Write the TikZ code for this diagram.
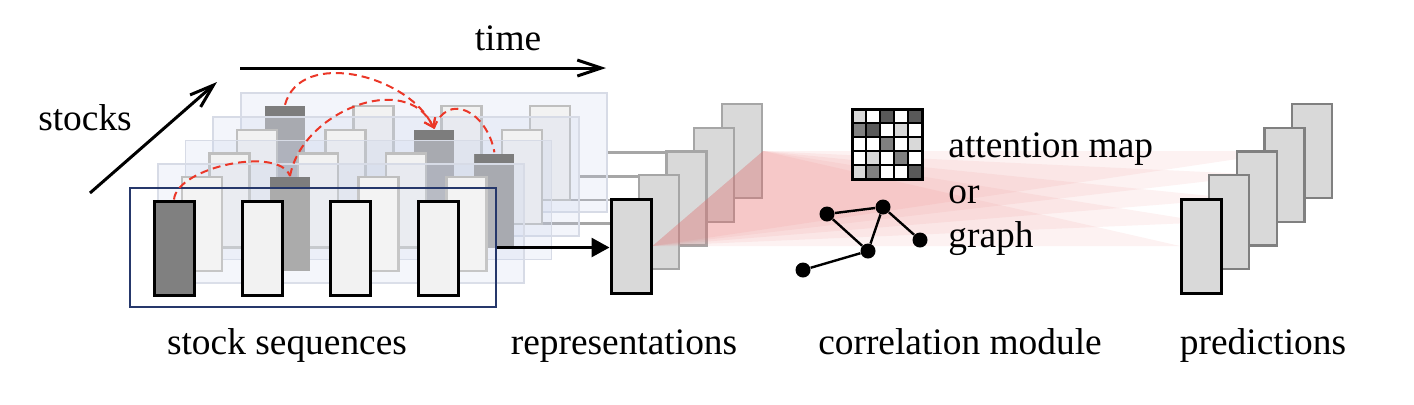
\documentclass[tikz,border=0pt]{standalone}
\usepackage{fontspec}
\setmainfont{Liberation Serif}
\usetikzlibrary{arrows.meta,backgrounds}

\definecolor{cellW}{gray}{1}
\definecolor{cellL}{RGB}{217,217,217}
\definecolor{cellM}{RGB}{128,128,128}
\definecolor{cellD}{RGB}{89,89,89}

\begin{document}
\begin{tikzpicture}[x=0.5pt, y=-0.5pt, >=Stealth, font=\fontsize{18.7}{22}\selectfont]
  \tikzset{
    layer/.style={rectangle, draw={rgb,255:red,215;green,219;blue,230},
      fill={rgb,255:red,200;green,210;blue,235}, fill opacity=0.22,
      minimum width=183pt, minimum height=59.5pt, inner sep=0pt, line width=0.8pt},
    front layer/.style={layer, draw={rgb,255:red,38;green,56;blue,107}, fill=white,
      fill opacity=0.12, line width=1.1pt},
    bar/.style={rectangle, minimum width=20pt, minimum height=47pt, inner sep=0pt, line width=1.2pt},
    light bar/.style={bar, draw={rgb,255:red,191;green,191;blue,191},
      fill={rgb,255:red,242;green,242;blue,242}},
    key bar/.style={bar, fill={rgb,255:red,160;green,160;blue,160},
      path picture={
        \fill[fill={rgb,255:red,125;green,125;blue,125}] (path picture bounding box.north west)
          rectangle ([yshift=-5pt]path picture bounding box.north east);
      }},
    front bar/.style={bar, draw=black, line width=1.5pt, fill={rgb,255:red,242;green,242;blue,242}},
    dark bar/.style={front bar, fill={rgb,255:red,128;green,128;blue,128}},
    rep/.style={bar, draw={rgb,255:red,166;green,166;blue,166}, fill={rgb,255:red,217;green,217;blue,217}},
    pred/.style={rep, draw={rgb,255:red,128;green,128;blue,128}},
    first/.style={draw=black, line width=1.5pt},
    link/.style={draw={rgb,255:red,166;green,166;blue,166}, line width=1.3pt},
    feed/.style={-{Triangle[length=9pt,width=9.5pt]}, line width=1.4pt},
    long arrow/.style={-{Straight Barb[length=12pt,width=8pt]}, line width=1.5pt},
    hop/.style={draw={rgb,255:red,235;green,55;blue,40}, line width=1pt, dash pattern=on 4pt off 2.5pt},
    hop arrow/.style={hop, -{Straight Barb[length=4pt,width=6pt]}},
    fan/.style={fill={rgb,255:red,230;green,110;blue,110}, fill opacity=0.09},
    vertex/.style={circle, fill=black, minimum size=7.5pt, inner sep=0pt},
    tie/.style={line width=1.2pt},
    cell/.style={draw=black, line width=1pt},
    txt/.style={inner sep=0pt}
  }

  \useasboundingbox (0,0) rectangle (1414,404);

  \foreach \k/\key in {4/0,3/2,2/3,1/1} {
    \node[layer] (L\k) at ({313+27.75*\k},{247.5-23.75*\k}) {};
    \foreach \j in {0,...,3} {
      \ifnum\j=\key
        \node[key bar] (s\k\j) at ({174+27.75*\k+88.3*\j},{248-23.75*\k}) {};
      \else
        \node[light bar] (s\k\j) at ({174+27.75*\k+88.3*\j},{248-23.75*\k}) {};
      \fi
    }
  }
  \node[front layer] (L0) at (313,247.5) {};
  \node[dark bar] (s00) at (174,248) {};
  \foreach \j in {1,2,3}
    \node[front bar] (s0\j) at ({174+88.3*\j},248) {};

  \foreach \k in {4,...,1}
    \node[rep] (r\k) at ({631+27.75*\k},{246-23.75*\k}) {};
  \node[rep, first] (r0) at (631,246) {};

  \begin{scope}[on background layer]
    \foreach \k in {1,...,4}
      \draw[link] (L\k.east) -- (L\k.east -| r\k.west);
  \end{scope}
  \draw[feed] (L0.east) -- (L0.east -| r0.west);

  \draw[hop] (s00.north) to[out=85, in=110, looseness=0.7] (s11.north);
  \draw[hop arrow] (s11.north) to[out=80, in=115, looseness=1.1] (s32.north);
  \draw[hop arrow] (s40.north) to[out=75, in=115] (s32.north);
  \draw[hop] (s32.north) to[out=70, in=100, looseness=1.6] (s23.north);

  \coordinate (t0) at (240,68);
  \coordinate (t1) at (606,68);
  \draw[long arrow] (t0) -- (t1);
  \node[txt, anchor=base] (time) at (508,50) {time};
  \coordinate (k0) at (90,193);
  \coordinate (k1) at (217,82);
  \draw[long arrow] (k0) -- (k1);
  \node[txt, anchor=base] (stocks) at (85,130) {stocks};

  \foreach \k in {0,...,4}
    \coordinate (q\k) at ({1180+27.75*\k},{246-23.75*\k});
  \foreach \k in {0,...,4}
    \fill[fan] (r0.east) -- (r4.east) -- (q\k) -- cycle;

  \foreach \c [count=\i from 0] in {L,W,D,W,D,M,D,W,L,W,W,W,M,W,L,W,L,W,M,W,L,M,W,W,D} {
    \pgfmathtruncatemacro\cx{mod(\i,5)}
    \pgfmathtruncatemacro\cy{div(\i,5)}
    \draw[cell, fill=cell\c] ({852+14*\cx},{109+14*\cy}) rectangle ++(14,14);
  }
  \draw[line width=1.5pt] (852,109) rectangle (922,179);

  \node[vertex] (g1) at (827,214) {};
  \node[vertex] (g2) at (883,207) {};
  \node[vertex] (g3) at (920,240) {};
  \node[vertex] (g4) at (868,251) {};
  \node[vertex] (g5) at (803,270) {};
  \draw[tie] (g1) -- (g2) (g1) -- (g4) (g2) -- (g4) (g2) -- (g3) (g4) -- (g5);

  \node[txt, anchor=base west] (attn) at (948,157) {attention map};
  \node[txt, anchor=base west] (or) at (948,203) {or};
  \node[txt, anchor=base west] (graph) at (948,247) {graph};

  \foreach \k in {4,...,1}
    \node[pred, anchor=west] (p\k) at (q\k) {};
  \node[pred, first, anchor=west] (p0) at (q0) {};

  \node[txt, anchor=base] (seq) at (287,354) {stock sequences};
  \node[txt, anchor=base] (repr) at (624,354) {representations};
  \node[txt, anchor=base] (corr) at (960,354) {correlation module};
  \node[txt, anchor=base] (pred) at (1263,354) {predictions};
\end{tikzpicture}
\end{document}
